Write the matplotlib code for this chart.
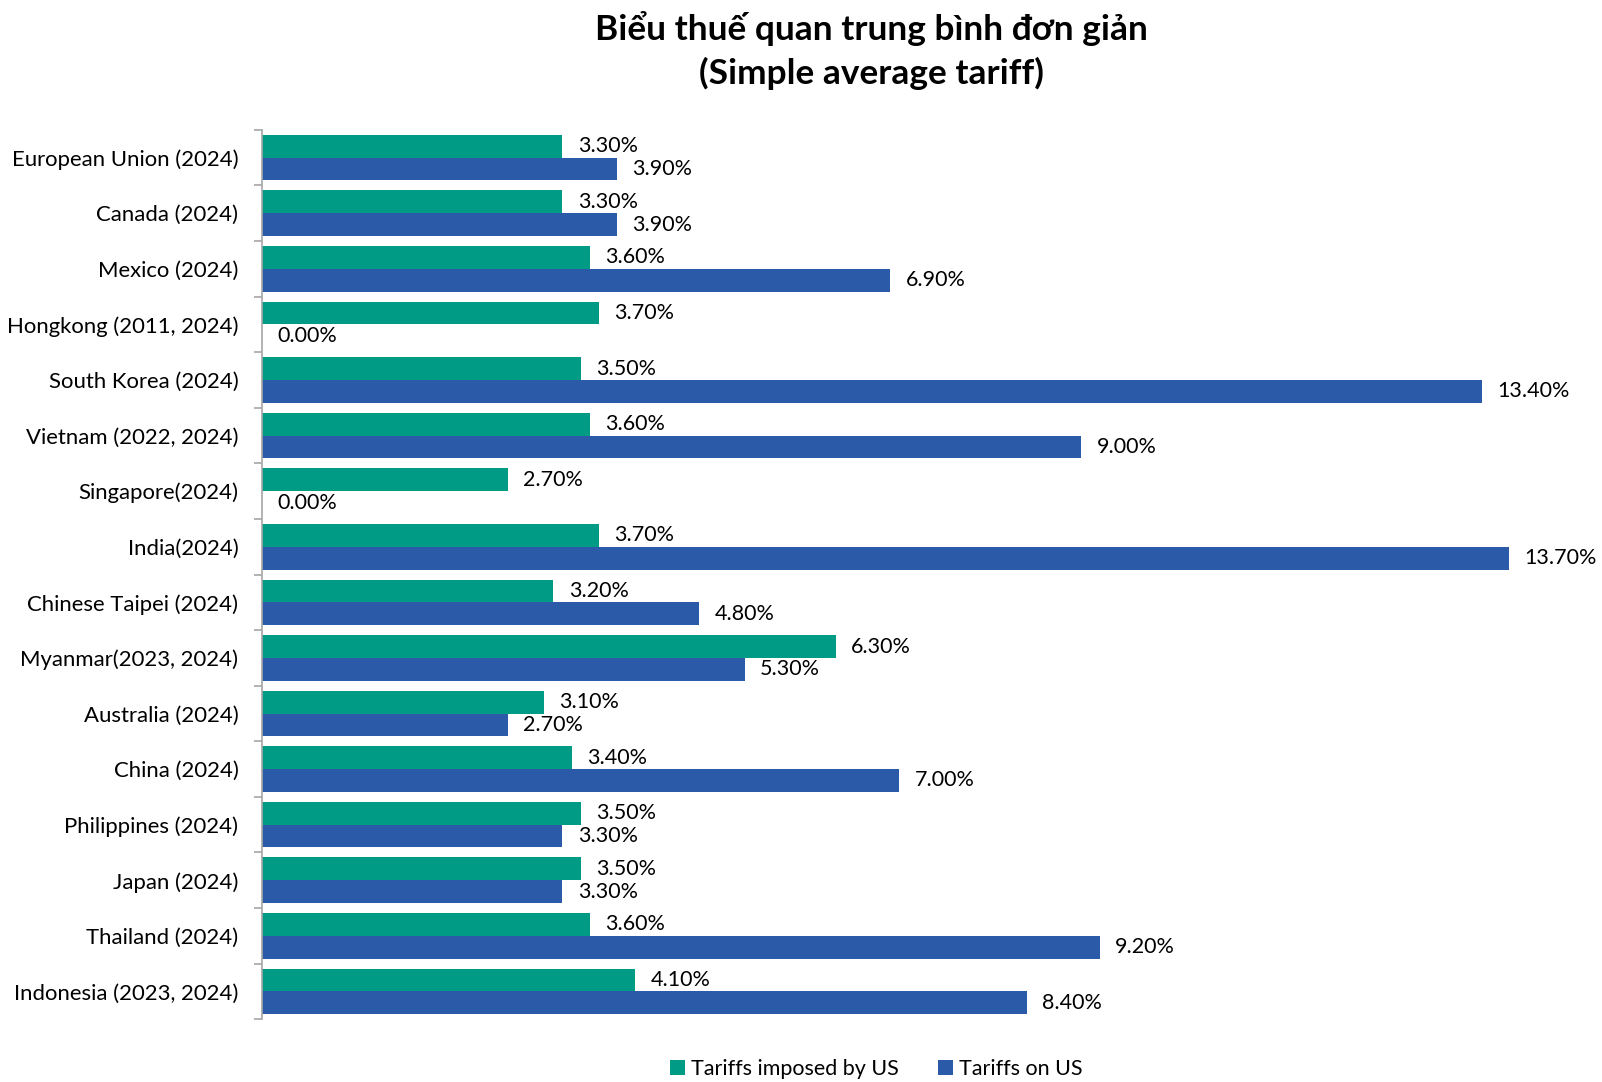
import numpy as np
import matplotlib.pyplot as plt

plt.rcParams['font.family'] = ['Lato', 'DejaVu Sans']

countries = [
    "European Union (2024)", "Canada (2024)", "Mexico (2024)",
    "Hongkong (2011, 2024)", "South Korea (2024)", "Vietnam (2022, 2024)",
    "Singapore(2024)", "India(2024)", "Chinese Taipei (2024)",
    "Myanmar(2023, 2024)", "Australia (2024)", "China (2024)",
    "Philippines (2024)", "Japan (2024)", "Thailand (2024)",
    "Indonesia (2023, 2024)",
]
imposed_by_us = [3.3, 3.3, 3.6, 3.7, 3.5, 3.6, 2.7, 3.7, 3.2, 6.3, 3.1, 3.4, 3.5, 3.5, 3.6, 4.1]
on_us = [3.9, 3.9, 6.9, 0.0, 13.4, 9.0, 0.0, 13.7, 4.8, 5.3, 2.7, 7.0, 3.3, 3.3, 9.2, 8.4]

green = "#009B84"
blue = "#2B5BA8"

fig = plt.figure(figsize=(16.02, 10.82), dpi=100)
ax = fig.add_axes([0.1636, 0.058, 0.829, 0.822])

y = np.arange(len(countries))
h = 0.41
b1 = ax.barh(y - h / 2, imposed_by_us, height=h, color=green, label="Tariffs imposed by US")
b2 = ax.barh(y + h / 2, on_us, height=h, color=blue, label="Tariffs on US")

for bars in (b1, b2):
    for bar in bars:
        w = bar.get_width()
        ax.annotate(f"{w:.2f}%", (w, bar.get_y() + bar.get_height() / 2),
                    xytext=(11, 0), textcoords="offset points",
                    va="center", ha="left", fontsize=15.5)

ax.set_xlim(0, 14.59)
ax.set_ylim(len(countries) - 0.5, -0.5)
ax.set_yticks(y)
ax.set_yticklabels(countries, fontsize=15.9)
ax.set_yticks(np.arange(-0.5, len(countries), 1), minor=True)
ax.tick_params(axis="y", which="major", length=0, pad=17)
ax.tick_params(axis="y", which="minor", length=6, color="#a6a6a6", width=1.2)
ax.xaxis.set_visible(False)
for s in ("top", "right", "bottom"):
    ax.spines[s].set_visible(False)
ax.spines["left"].set_color("#a6a6a6")
ax.spines["left"].set_linewidth(1.2)

fig.text(0.544, 0.953, "Biểu thuế quan trung bình đơn giản\n(Simple average tariff)",
         ha="center", va="center", fontsize=25.4, fontweight="bold", linespacing=1.4)

fig.legend(loc="center", bbox_to_anchor=(0.547, 0.012), ncol=2, frameon=False,
           fontsize=15.5, handlelength=0.7, handleheight=0.7, columnspacing=1.8,
           handletextpad=0.3)

fig.savefig("out.png", dpi=100)
